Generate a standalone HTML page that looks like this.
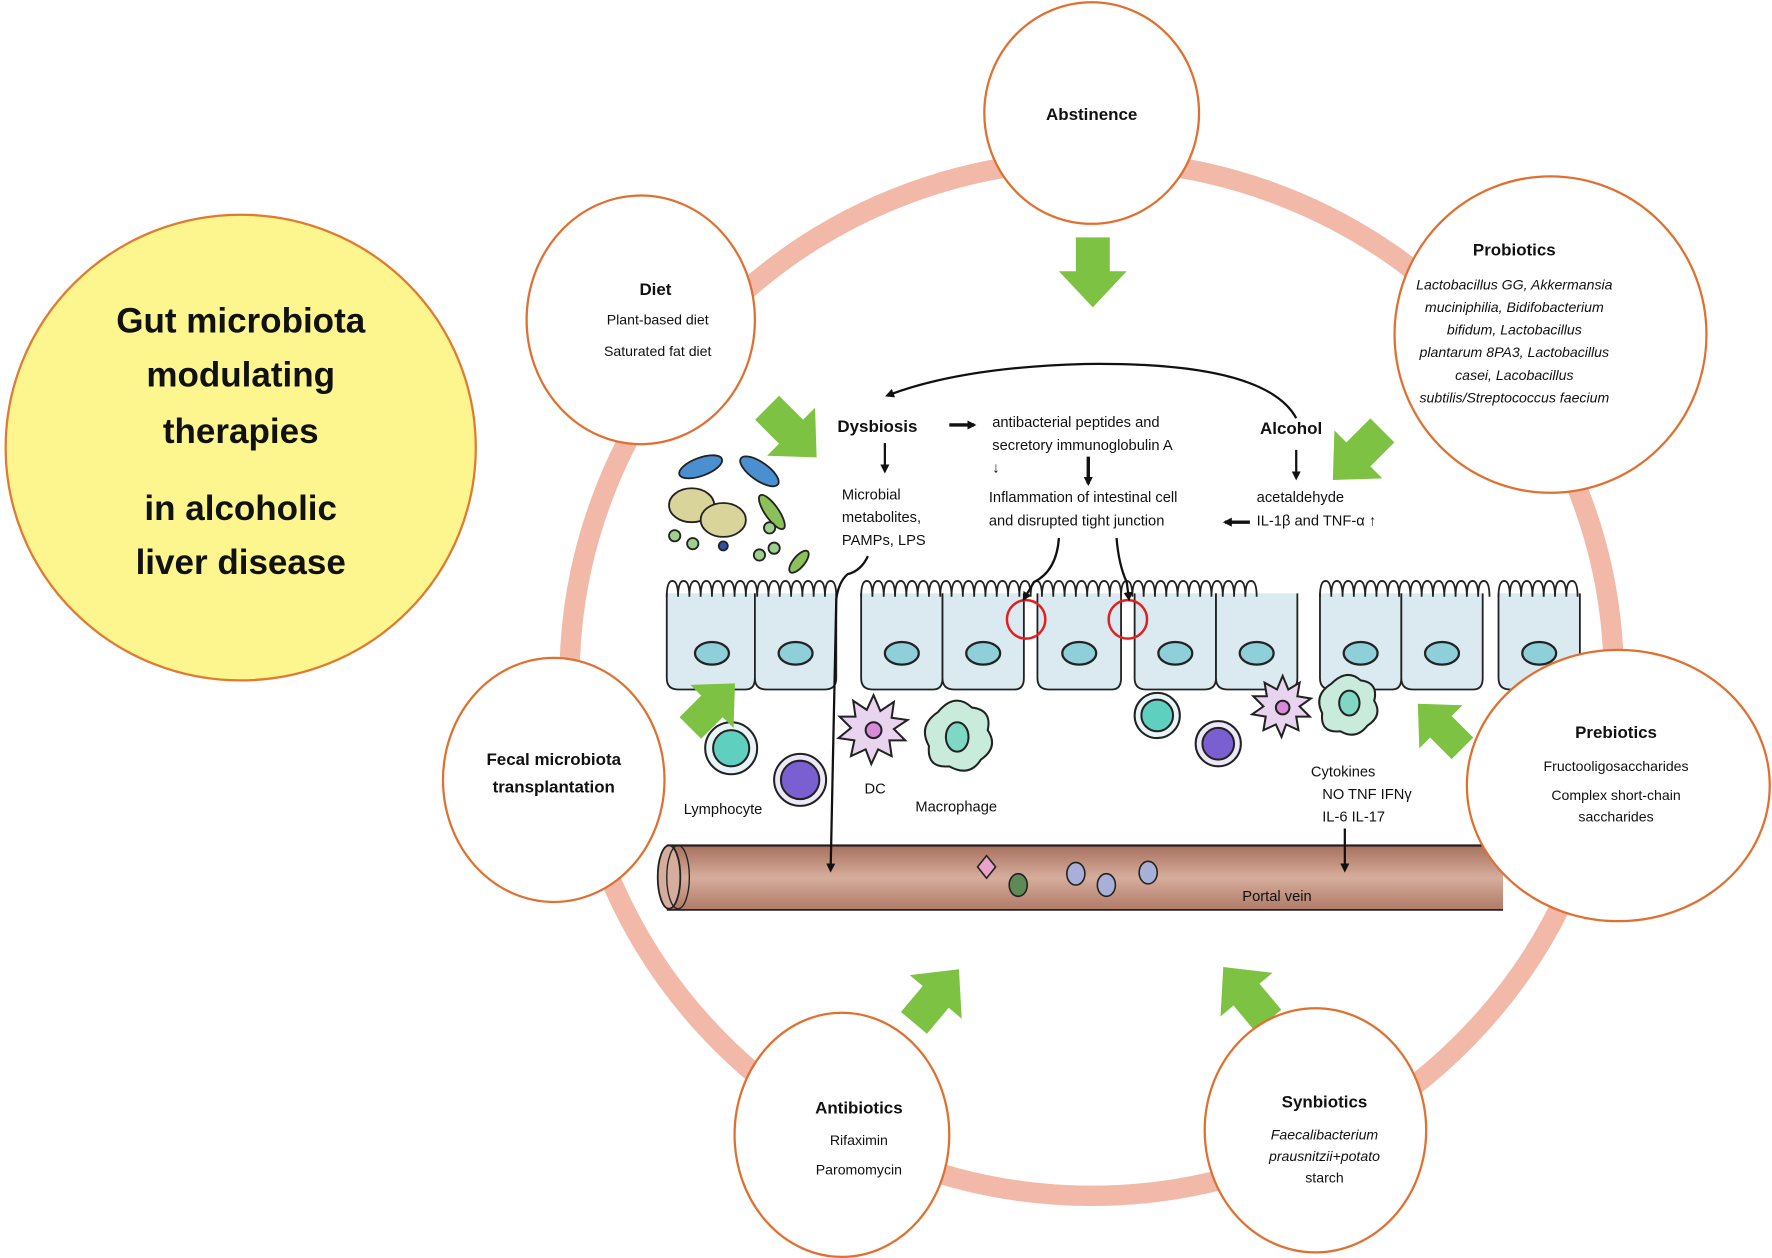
<!DOCTYPE html>
<html><head><meta charset="utf-8"><style>
html,body{margin:0;padding:0;background:#fff}
svg{display:block}
text{font-family:"Liberation Sans",sans-serif;fill:#111}
.t{font-weight:bold;font-size:15px;text-anchor:middle}
.b{font-size:12.5px;text-anchor:middle}
.i{font-size:12.5px;text-anchor:middle;font-style:italic}
.s{font-size:13px}
</style></head><body>
<svg width="1772" height="1258" viewBox="0 0 1568 1113" preserveAspectRatio="none" xmlns="http://www.w3.org/2000/svg">
<defs>
<linearGradient id="pv" x1="0" y1="0" x2="0" y2="1">
<stop offset="0" stop-color="#a8705e"/><stop offset="0.5" stop-color="#d6ad9c"/><stop offset="1" stop-color="#b07a68"/></linearGradient>
<marker id="ah" markerWidth="8" markerHeight="8" refX="6" refY="4" orient="auto" markerUnits="userSpaceOnUse"><path d="M0,0 L8,4 L0,8 z" fill="#111"/></marker>
<g id="ga"><polygon points="-15,-30 15,-30 15,0 30,0 0,32 -30,0 -15,0" fill="#7dc242"/></g>
</defs>
<ellipse cx="213" cy="396" rx="208" ry="206" fill="#fdf58e" stroke="#e07a30" stroke-width="2"/>
<text x="213" y="294" text-anchor="middle" style="font-weight:bold;font-size:31px">Gut microbiota</text>
<text x="213" y="342" text-anchor="middle" style="font-weight:bold;font-size:31px">modulating</text>
<text x="213" y="392" text-anchor="middle" style="font-weight:bold;font-size:31px">therapies</text>
<text x="213" y="460" text-anchor="middle" style="font-weight:bold;font-size:31px">in alcoholic</text>
<text x="213" y="508" text-anchor="middle" style="font-weight:bold;font-size:31px">liver disease</text>
<ellipse cx="966" cy="600" rx="462" ry="458" fill="none" stroke="#f2b9a8" stroke-width="18"/>
<g fill="#dbe9f0" stroke="#222" stroke-width="1.6">
<path d="M590,525 L590,600 Q590,610 600,610 L660,610 Q668,610 668,600 L668,525"/>
<path d="M668,525 L668,600 Q668,610 678,610 L730,610 Q740,610 740,600 L740,525"/>
<path d="M762,525 L762,600 Q762,610 772,610 L826,610 Q834,610 834,600 L834,525"/>
<path d="M834,525 L834,600 Q834,610 844,610 L898,610 Q906,610 906,600 L906,525"/>
<path d="M918,525 L918,600 Q918,610 928,610 L984,610 Q992,610 992,600 L992,525"/>
<path d="M1004,525 L1004,600 Q1004,610 1014,610 L1066,610 Q1076,610 1076,600 L1076,525"/>
<path d="M1076,525 L1076,600 Q1076,610 1086,610 L1140,610 Q1148,610 1148,600 L1148,525"/>
<path d="M1168,525 L1168,600 Q1168,610 1178,610 L1232,610 Q1240,610 1240,600 L1240,525"/>
<path d="M1240,525 L1240,600 Q1240,610 1250,610 L1304,610 Q1312,610 1312,600 L1312,525"/>
<path d="M1326,525 L1326,600 Q1326,610 1336,610 L1390,610 Q1398,610 1398,600 L1398,525"/>
</g>
<g fill="none" stroke="#222" stroke-width="1.6">
<path d="M590,528 q0,-14 5,-14 q5,0 5,14 q0,-14 5,-14 q5,0 5,14 q0,-14 5,-14 q5,0 5,14 q0,-14 5,-14 q5,0 5,14 q0,-14 5,-14 q5,0 5,14 q0,-14 5,-14 q5,0 5,14 q0,-14 5,-14 q5,0 5,14 q0,-14 5,-14 q5,0 5,14 q0,-14 5,-14 q5,0 5,14 q0,-14 5,-14 q5,0 5,14 q0,-14 5,-14 q5,0 5,14 q0,-14 5,-14 q5,0 5,14 q0,-14 5,-14 q5,0 5,14 q0,-14 5,-14 q5,0 5,14 q0,-14 5,-14 q5,0 5,14"/>
<path d="M762,528 q0,-14 5,-14 q5,0 5,14 q0,-14 5,-14 q5,0 5,14 q0,-14 5,-14 q5,0 5,14 q0,-14 5,-14 q5,0 5,14 q0,-14 5,-14 q5,0 5,14 q0,-14 5,-14 q5,0 5,14 q0,-14 5,-14 q5,0 5,14 q0,-14 5,-14 q5,0 5,14 q0,-14 5,-14 q5,0 5,14 q0,-14 5,-14 q5,0 5,14 q0,-14 5,-14 q5,0 5,14 q0,-14 5,-14 q5,0 5,14 q0,-14 5,-14 q5,0 5,14 q0,-14 5,-14 q5,0 5,14 q0,-14 5,-14 q5,0 5,14 q0,-14 5,-14 q5,0 5,14 q0,-14 5,-14 q5,0 5,14 q0,-14 5,-14 q5,0 5,14 q0,-14 5,-14 q5,0 5,14 q0,-14 5,-14 q5,0 5,14 q0,-14 5,-14 q5,0 5,14 q0,-14 5,-14 q5,0 5,14 q0,-14 5,-14 q5,0 5,14 q0,-14 5,-14 q5,0 5,14 q0,-14 5,-14 q5,0 5,14 q0,-14 5,-14 q5,0 5,14 q0,-14 5,-14 q5,0 5,14 q0,-14 5,-14 q5,0 5,14 q0,-14 5,-14 q5,0 5,14 q0,-14 5,-14 q5,0 5,14 q0,-14 5,-14 q5,0 5,14 q0,-14 5,-14 q5,0 5,14 q0,-14 5,-14 q5,0 5,14 q0,-14 5,-14 q5,0 5,14 q0,-14 5,-14 q5,0 5,14"/>
<path d="M1168,528 q0,-14 5,-14 q5,0 5,14 q0,-14 5,-14 q5,0 5,14 q0,-14 5,-14 q5,0 5,14 q0,-14 5,-14 q5,0 5,14 q0,-14 5,-14 q5,0 5,14 q0,-14 5,-14 q5,0 5,14 q0,-14 5,-14 q5,0 5,14 q0,-14 5,-14 q5,0 5,14 q0,-14 5,-14 q5,0 5,14 q0,-14 5,-14 q5,0 5,14 q0,-14 5,-14 q5,0 5,14 q0,-14 5,-14 q5,0 5,14 q0,-14 5,-14 q5,0 5,14 q0,-14 5,-14 q5,0 5,14 q0,-14 5,-14 q5,0 5,14"/>
<path d="M1326,528 q0,-14 5,-14 q5,0 5,14 q0,-14 5,-14 q5,0 5,14 q0,-14 5,-14 q5,0 5,14 q0,-14 5,-14 q5,0 5,14 q0,-14 5,-14 q5,0 5,14 q0,-14 5,-14 q5,0 5,14 q0,-14 5,-14 q5,0 5,14"/>
</g>
<g fill="#8fcfd9" stroke="#222" stroke-width="2">
<ellipse cx="630" cy="578" rx="15" ry="10"/><ellipse cx="704" cy="578" rx="15" ry="10"/>
<ellipse cx="798" cy="578" rx="15" ry="10"/><ellipse cx="870" cy="578" rx="15" ry="10"/>
<ellipse cx="955" cy="578" rx="15" ry="10"/><ellipse cx="1040" cy="578" rx="15" ry="10"/>
<ellipse cx="1112" cy="578" rx="15" ry="10"/><ellipse cx="1204" cy="578" rx="15" ry="10"/>
<ellipse cx="1276" cy="578" rx="15" ry="10"/><ellipse cx="1362" cy="578" rx="15" ry="10"/>
</g>
<circle cx="908" cy="548" r="17" fill="none" stroke="#e02020" stroke-width="2.2"/>
<circle cx="998" cy="548" r="17" fill="none" stroke="#e02020" stroke-width="2.2"/>
<g stroke="#222" stroke-width="1.6">
<ellipse cx="620" cy="413" rx="20" ry="8" fill="#4a8fd0" transform="rotate(-20 620 413)"/>
<ellipse cx="672" cy="417" rx="20" ry="8" fill="#4a8fd0" transform="rotate(35 672 417)"/>
<ellipse cx="612" cy="447" rx="20" ry="15" fill="#d8d49a"/>
<ellipse cx="640" cy="460" rx="20" ry="15" fill="#d8d49a"/>
<ellipse cx="683" cy="453" rx="18" ry="6" fill="#8bc05a" transform="rotate(55 683 453)"/>
<ellipse cx="707" cy="497" rx="12" ry="5" fill="#8bc05a" transform="rotate(-50 707 497)"/>
<circle cx="597" cy="474" r="5" fill="#9dd08a"/><circle cx="613" cy="481" r="5" fill="#9dd08a"/>
<circle cx="681" cy="467" r="5" fill="#9dd08a"/><circle cx="672" cy="491" r="5" fill="#9dd08a"/><circle cx="685" cy="485" r="5" fill="#9dd08a"/>
<circle cx="640" cy="483" r="4" fill="#3050a0"/>
</g>
<g stroke="#222" stroke-width="1.8">
<circle cx="647" cy="662" r="23" fill="#e8f4f6"/><circle cx="647" cy="662" r="16" fill="#5fcfc0"/>
<circle cx="708" cy="690" r="23" fill="#ece8f6"/><circle cx="708" cy="690" r="17" fill="#7a5fd0"/>
<circle cx="1024" cy="633" r="20" fill="#e8f4f6"/><circle cx="1024" cy="633" r="14" fill="#5fcfc0"/>
<circle cx="1078" cy="658" r="20" fill="#ece8f6"/><circle cx="1078" cy="658" r="14" fill="#7a5fd0"/>
<path d="M773,615 l6,14 12,-8 -2,14 14,2 -12,8 10,10 -14,0 2,14 -12,-6 -6,13 -5,-13 -13,6 3,-14 -14,-2 11,-9 -10,-10 14,0 -2,-14 12,8z" fill="#e8d4ee"/>
<circle cx="773" cy="646" r="7" fill="#d78ad8"/>
<path d="M830,630 q15,-18 30,-4 q18,2 14,20 q10,15 -6,26 q-10,16 -28,6 q-20,2 -18,-18 q-10,-18 8,-30z" fill="#c8ebdc"/>
<ellipse cx="847" cy="652" rx="10" ry="13" fill="#7fd8c4"/>
<path d="M1135,598 l5,12 10,-6 -2,12 12,2 -10,7 9,9 -12,0 2,12 -11,-5 -4,11 -5,-11 -11,5 2,-12 -12,-2 10,-7 -9,-9 12,0 -2,-12 11,6z" fill="#e8d4ee"/>
<circle cx="1135" cy="626" r="6" fill="#d78ad8"/>
<path d="M1178,605 q14,-14 26,-3 q16,2 12,18 q8,13 -6,22 q-10,13 -24,5 q-18,2 -16,-16 q-8,-16 8,-26z" fill="#c8ebdc"/>
<ellipse cx="1194" cy="622" rx="9" ry="11" fill="#7fd8c4"/>
</g>
<rect x="590" y="748" width="740" height="57" fill="url(#pv)"/>
<line x1="590" y1="748" x2="1330" y2="748" stroke="#222" stroke-width="2"/>
<line x1="590" y1="805" x2="1330" y2="805" stroke="#222" stroke-width="1.5"/>
<ellipse cx="592" cy="776" rx="10" ry="28" fill="#d6ad9c" stroke="#222" stroke-width="1.6"/>
<ellipse cx="600" cy="776" rx="10" ry="28" fill="none" stroke="#222" stroke-width="1.2"/>
<g stroke="#222" stroke-width="1.4">
<path d="M873,757 l8,10 -8,10 -8,-10z" fill="#e9a2c8"/>
<ellipse cx="901" cy="783" rx="8" ry="10" fill="#5e8a56"/>
<ellipse cx="952" cy="773" rx="8" ry="10" fill="#a8b0d8"/>
<ellipse cx="979" cy="783" rx="8" ry="10" fill="#a8b0d8"/>
<ellipse cx="1016" cy="772" rx="8" ry="10" fill="#a8b0d8"/>
</g>
<text x="1130" y="797" class="s" text-anchor="middle">Portal vein</text>
<g fill="none" stroke="#111" stroke-width="2">
<path d="M1147,370 Q1120,320 960,322 Q850,325 785,350" marker-end="url(#ah)"/>
<path d="M840,376 L862,376" stroke-width="3" marker-end="url(#ah)"/>
<path d="M783,392 L783,417" marker-end="url(#ah)"/>
<path d="M963,404 L963,428" stroke-width="3" marker-end="url(#ah)"/>
<path d="M1147,398 L1147,423" marker-end="url(#ah)"/>
<path d="M1106,462 L1084,462" stroke-width="3" marker-end="url(#ah)"/>
<path d="M937,476 Q935,505 915,515 L906,530" marker-end="url(#ah)"/>
<path d="M988,476 Q990,500 997,515 L999,530" marker-end="url(#ah)"/>
<path d="M768,492 Q762,505 750,508 Q742,515 740,530 L735,770" marker-end="url(#ah)"/>
<path d="M1190,733 L1190,770" marker-end="url(#ah)"/>
</g>
<text x="741" y="382" class="s" style="font-weight:bold;font-size:15px">Dysbiosis</text>
<text x="878" y="378" class="s">antibacterial peptides and</text>
<text x="878" y="398" class="s">secretory immunoglobulin A</text>
<text x="878" y="418" class="s">↓</text>
<text x="1115" y="384" class="s" style="font-weight:bold;font-size:15px">Alcohol</text>
<text x="745" y="442" class="s">Microbial</text>
<text x="745" y="462" class="s">metabolites,</text>
<text x="745" y="482" class="s">PAMPs, LPS</text>
<text x="875" y="444" class="s">Inflammation of intestinal cell</text>
<text x="875" y="465" class="s">and disrupted tight junction</text>
<text x="1112" y="444" class="s">acetaldehyde</text>
<text x="1112" y="465" class="s">IL-1β and TNF-α ↑</text>
<text x="765" y="702" class="s">DC</text>
<text x="810" y="718" class="s">Macrophage</text>
<text x="605" y="720" class="s">Lymphocyte</text>
<text x="1160" y="687" class="s">Cytokines</text>
<text x="1170" y="707" class="s">NO TNF IFNγ</text>
<text x="1170" y="727" class="s">IL-6 IL-17</text>
<use href="#ga" transform="translate(967,240)"/>
<use href="#ga" transform="translate(700,382) rotate(-45)"/>
<use href="#ga" transform="translate(1202,402) rotate(45)"/>
<use href="#ga" transform="translate(630,625) rotate(-135) scale(0.9)"/>
<use href="#ga" transform="translate(1275,643) rotate(135) scale(0.9)"/>
<use href="#ga" transform="translate(828,882) rotate(-140)"/>
<use href="#ga" transform="translate(1103,880) rotate(140)"/>
<g fill="#fff" stroke="#e07030" stroke-width="2">
<ellipse cx="966" cy="100" rx="95" ry="98"/>
<ellipse cx="567" cy="283" rx="101" ry="110"/>
<ellipse cx="1372" cy="296" rx="138" ry="140"/>
<ellipse cx="490" cy="690" rx="98" ry="108"/>
<ellipse cx="1432" cy="695" rx="134" ry="120"/>
<ellipse cx="745" cy="1004" rx="95" ry="108"/>
<ellipse cx="1164" cy="1000" rx="98" ry="108"/>
</g>
<text x="966" y="106" class="t">Abstinence</text>
<text x="580" y="261" class="t">Diet</text>
<text x="582" y="287" class="b">Plant-based diet</text>
<text x="582" y="315" class="b">Saturated fat diet</text>
<text x="1340" y="226" class="t">Probiotics</text>
<text x="1340" y="256" class="i">Lactobacillus GG, Akkermansia</text>
<text x="1340" y="276" class="i">muciniphilia, Bidifobacterium</text>
<text x="1340" y="296" class="i">bifidum, Lactobacillus</text>
<text x="1340" y="316" class="i">plantarum 8PA3, Lactobacillus</text>
<text x="1340" y="336" class="i">casei, Lacobacillus</text>
<text x="1340" y="356" class="i">subtilis/Streptococcus faecium</text>
<text x="490" y="677" class="t">Fecal microbiota</text>
<text x="490" y="701" class="t">transplantation</text>
<text x="1430" y="653" class="t">Prebiotics</text>
<text x="1430" y="682" class="b">Fructooligosaccharides</text>
<text x="1430" y="708" class="b">Complex short-chain</text>
<text x="1430" y="727" class="b">saccharides</text>
<text x="760" y="985" class="t">Antibiotics</text>
<text x="760" y="1013" class="b">Rifaximin</text>
<text x="760" y="1039" class="b">Paromomycin</text>
<text x="1172" y="980" class="t">Synbiotics</text>
<text x="1172" y="1008" class="i">Faecalibacterium</text>
<text x="1172" y="1027" class="i">prausnitzii+potato</text>
<text x="1172" y="1046" class="b">starch</text>
</svg>
</body></html>
